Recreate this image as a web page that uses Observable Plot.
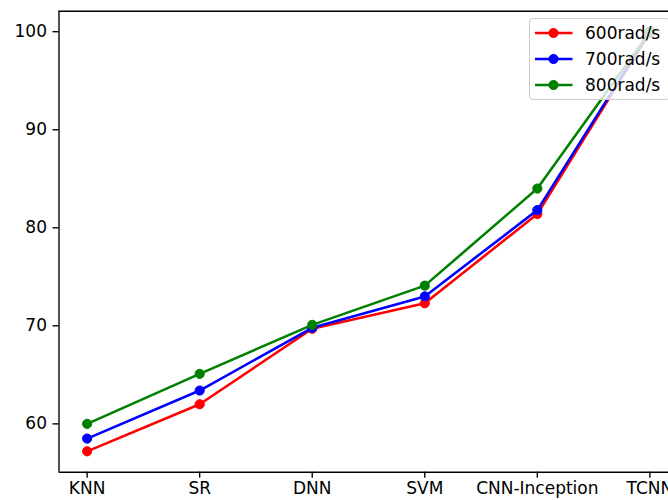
<!DOCTYPE html>
<html>
<head>
<meta charset="utf-8">
<script src="https://cdn.jsdelivr.net/npm/d3@7"></script>
<script src="https://cdn.jsdelivr.net/npm/@observablehq/plot@0.6"></script>
<style>
  html, body { margin: 0; padding: 0; background: white; overflow: hidden; }
  #wrap { position: relative; width: 668px; height: 500px; overflow: hidden; }
  #wrap svg.plot { max-width: none !important; }
  #legend { position: absolute; left: 529px; top: 18px; width: 141px; height: 82px;
            background: rgba(255,255,255,0.8); border: 1px solid #cccccc; border-radius: 4px;
            box-sizing: border-box; }
</style>
</head>
<body>
<div id="wrap"><div id="legend"></div></div>
<script>
const categories = ["KNN", "SR", "DNN", "SVM", "CNN-Inception", "TCNN"];
const seriesNames = ["600rad/s", "700rad/s", "800rad/s"];
const values600 = [57.2, 62.0, 69.7, 72.3, 81.4, 99.9];
const values700 = [58.5, 63.4, 69.8, 73.0, 81.8, 100.0];
const values800 = [60.0, 65.1, 70.1, 74.1, 84.0, 100.0];
const seriesColors = ["#ff0000", "#0000ff", "#008000"];
const yTicks = [60, 70, 80, 90, 100];

const allValues = [values600, values700, values800];
const seriesData = allValues.map((vals, s) =>
  vals.map((v, i) => ({ i, cat: categories[i], series: seriesNames[s], v })));

const yLo = 55.07, yHi = 102.09;
const xLo = -0.25, xHi = 5.25;
const spine = 1.37;

const marks = [];
seriesData.forEach((d, s) => {
  marks.push(Plot.line(d, { x: "i", y: "v", stroke: seriesColors[s], strokeWidth: 2.56 }));
  marks.push(Plot.dot(d, { x: "i", y: "v", r: 4.6, fill: seriesColors[s], stroke: seriesColors[s], strokeWidth: 1 }));
});

const chart = Plot.plot({
  width: 668,
  height: 500,
  marginLeft: 58.5,
  marginRight: 0,
  marginTop: 10.7,
  marginBottom: 28.3,
  style: { fontFamily: "DejaVu Sans", fontSize: "17px", color: "black", background: "white" },
  x: { type: "linear", domain: [xLo, xHi], range: [58.5, 58.5 + (677.5 - 58.5)] },
  y: { domain: [yLo, yHi] },
  marks: [
    ...marks,
    Plot.ruleY([yLo, yHi], { stroke: "black", strokeWidth: spine }),
    Plot.ruleX([xLo], { stroke: "black", strokeWidth: spine }),
    Plot.axisX({ ticks: d3.range(categories.length), tickFormat: i => categories[i], tickSize: 6, tickPadding: 4, strokeWidth: spine, label: null, fontSize: 17 }),
    Plot.axisY({ ticks: yTicks, tickFormat: d => String(d), tickSize: 6, tickPadding: 6, strokeWidth: spine, label: null, fontSize: 17 })
  ]
});
chart.classList.add("plot");
document.getElementById("wrap").insertBefore(chart, document.getElementById("legend"));

// legend
const lg = d3.select("#legend").append("svg").attr("width", 141).attr("height", 82)
  .style("position", "absolute").style("left", "-1px").style("top", "-1px");
seriesNames.forEach((name, s) => {
  const cy = 15 + s * 26;
  lg.append("line").attr("x1", 6).attr("x2", 43.5).attr("y1", cy).attr("y2", cy)
    .attr("stroke", seriesColors[s]).attr("stroke-width", 2.56);
  lg.append("circle").attr("cx", 24.5).attr("cy", cy).attr("r", 4.6)
    .attr("fill", seriesColors[s]).attr("stroke", seriesColors[s]);
  lg.append("text").attr("x", 56).attr("y", cy + 6.2).text(name)
    .style("font-family", "DejaVu Sans").style("font-size", "17px").attr("fill", "black");
});
</script>
</body>
</html>
